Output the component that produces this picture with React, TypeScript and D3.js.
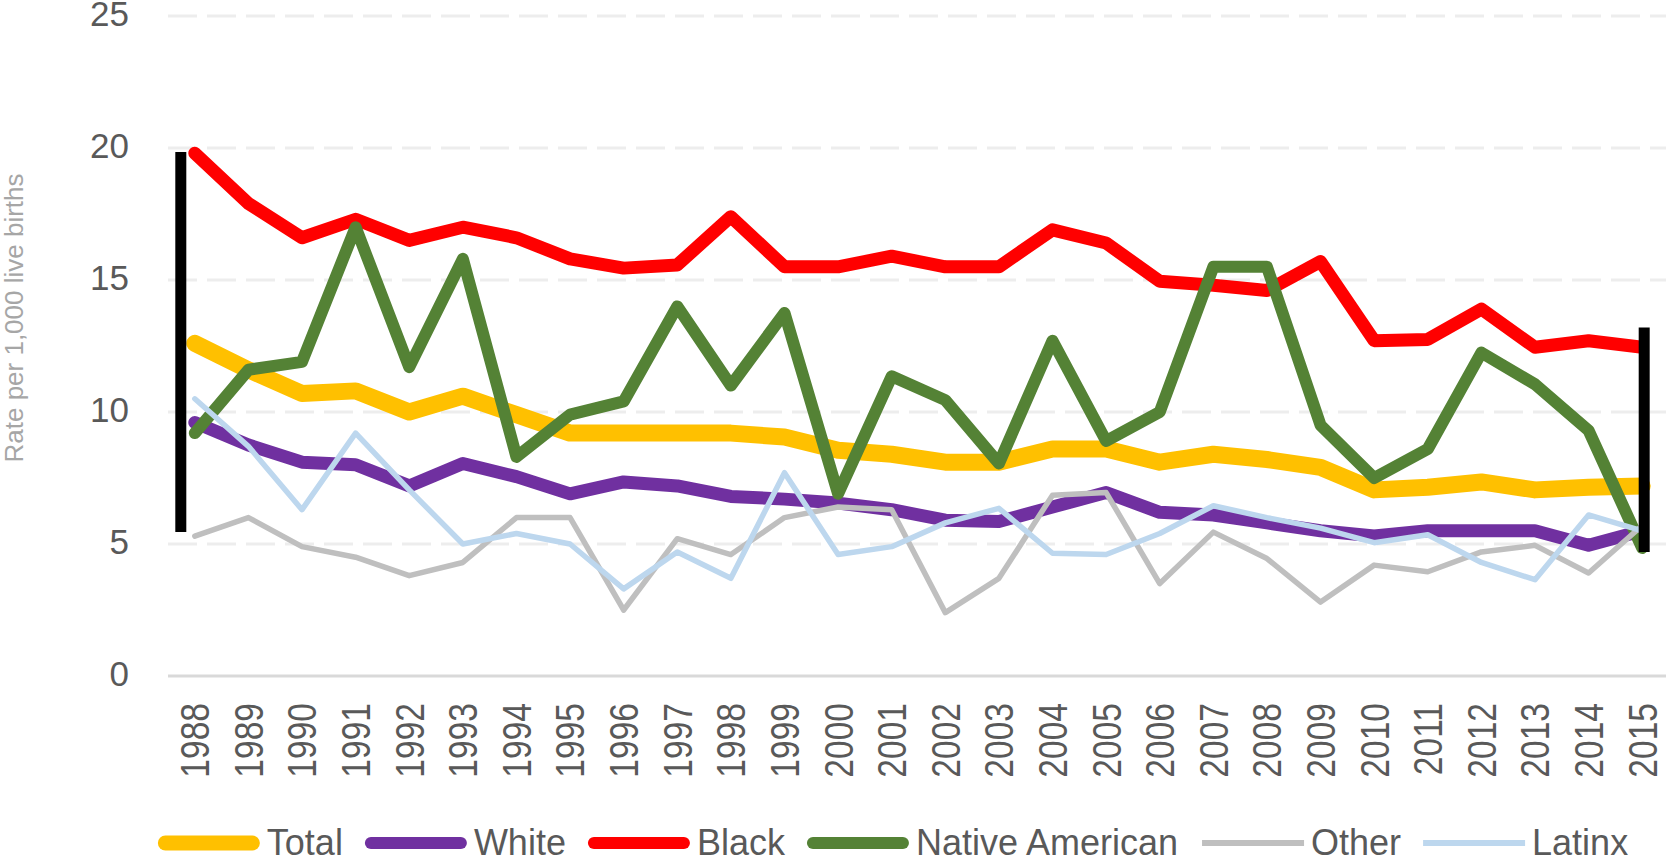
import * as d3 from 'd3'
import { useEffect, useRef } from 'react'

const W = 1666
const H = 864
const plot = { left: 168, right: 1669, top: 16, bottom: 676 }
const FONT = '"Liberation Sans", Arial, sans-serif'

const years = [
  '1988', '1989', '1990', '1991', '1992', '1993', '1994', '1995', '1996', '1997',
  '1998', '1999', '2000', '2001', '2002', '2003', '2004', '2005', '2006', '2007',
  '2008', '2009', '2010', '2011', '2012', '2013', '2014', '2015',
]
const yTicks = [0, 5, 10, 15, 20, 25]

const total = [12.6, 11.6, 10.7, 10.8, 10.0, 10.6, 9.9, 9.2, 9.2, 9.2, 9.2, 9.05, 8.55, 8.4, 8.1, 8.1, 8.6, 8.6, 8.1, 8.4, 8.2, 7.9, 7.05, 7.15, 7.35, 7.05, 7.15, 7.2]
const white = [9.6, 8.75, 8.1, 8.0, 7.2, 8.05, 7.55, 6.9, 7.35, 7.2, 6.8, 6.7, 6.55, 6.3, 5.9, 5.85, 6.4, 6.95, 6.2, 6.1, 5.8, 5.5, 5.3, 5.5, 5.5, 5.5, 4.95, 5.5]
const black = [19.8, 17.9, 16.6, 17.3, 16.5, 17.0, 16.6, 15.8, 15.45, 15.57, 17.4, 15.5, 15.5, 15.9, 15.5, 15.5, 16.9, 16.4, 14.95, 14.8, 14.6, 15.7, 12.7, 12.75, 13.9, 12.45, 12.7, 12.45]
const nativeAmerican = [9.2, 11.6, 11.9, 17.0, 11.7, 15.8, 8.3, 9.9, 10.4, 14.0, 11.0, 13.75, 6.9, 11.35, 10.45, 8.05, 12.7, 8.9, 10.0, 15.5, 15.5, 9.5, 7.5, 8.6, 12.25, 11.05, 9.3, 4.85]
const other = [5.3, 6.0, 4.9, 4.5, 3.8, 4.3, 6.0, 6.0, 2.5, 5.2, 4.6, 6.0, 6.4, 6.3, 2.4, 3.7, 6.85, 6.95, 3.5, 5.45, 4.45, 2.8, 4.2, 3.95, 4.7, 4.95, 3.9, 5.7]
const latinx = [10.5, 8.7, 6.3, 9.2, 7.05, 5.0, 5.4, 5.0, 3.3, 4.7, 3.7, 7.7, 4.6, 4.9, 5.8, 6.35, 4.65, 4.6, 5.4, 6.45, 6.0, 5.6, 5.05, 5.35, 4.3, 3.65, 6.1, 5.5]

// black range markers drawn over the first and last year
const rangeBars = [
  { year: '1988', high: 19.85, low: 5.45, shift: -14 },
  { year: '2015', high: 13.2, low: 4.7, shift: 2 },
]

const series = [
  { name: 'Total', values: total, color: '#FFC000', width: 17, legendWidth: 15 },
  { name: 'White', values: white, color: '#7030A0', width: 13, legendWidth: 12 },
  { name: 'Black', values: black, color: '#FF0000', width: 13, legendWidth: 12 },
  { name: 'Native American', values: nativeAmerican, color: '#548235', width: 12, legendWidth: 12 },
  { name: 'Other', values: other, color: '#BFBFBF', width: 5.5, legendWidth: 6 },
  { name: 'Latinx', values: latinx, color: '#BDD7EE', width: 5.5, legendWidth: 6 },
]

export default function App() {
  const ref = useRef<SVGSVGElement>(null)

  useEffect(() => {
    const svg = d3.select(ref.current)
    svg.selectAll('*').remove()

    const x = d3.scaleBand().domain(years).range([plot.left, plot.right]).padding(0)
    const xc = (yr: string) => (x(yr) ?? 0) + x.bandwidth() / 2
    const y = d3.scaleLinear().domain([0, 25]).range([plot.bottom, plot.top])

    // gridlines
    svg
      .append('g')
      .selectAll('line')
      .data(yTicks.filter((t) => t > 0))
      .join('line')
      .attr('x1', plot.left)
      .attr('x2', W)
      .attr('y1', (d) => y(d))
      .attr('y2', (d) => y(d))
      .attr('stroke', '#ededed')
      .attr('stroke-width', 3)
      .attr('stroke-dasharray', '29 10')

    svg
      .append('line')
      .attr('x1', plot.left)
      .attr('x2', W)
      .attr('y1', y(0))
      .attr('y2', y(0))
      .attr('stroke', '#d9d9d9')
      .attr('stroke-width', 3)

    // y tick labels
    svg
      .append('g')
      .selectAll('text')
      .data(yTicks)
      .join('text')
      .attr('x', 129)
      .attr('y', (d) => y(d) + 10)
      .attr('text-anchor', 'end')
      .attr('font-family', FONT)
      .attr('font-size', 35)
      .attr('fill', '#595959')
      .text((d) => d)

    // y title
    svg
      .append('text')
      .attr('transform', `translate(14, 318) rotate(-90)`)
      .attr('text-anchor', 'middle')
      .attr('dy', '0.35em')
      .attr('font-family', FONT)
      .attr('font-size', 26)
      .attr('fill', '#a6a6a6')
      .text('Rate per 1,000 live births')

    // x labels, rotated
    svg
      .append('g')
      .selectAll('text')
      .data(years)
      .join('text')
      .attr('transform', (d) => `translate(${xc(d)}, 703) rotate(-90) scale(0.84, 1)`)
      .attr('text-anchor', 'end')
      .attr('dy', '0.36em')
      .attr('font-family', FONT)
      .attr('font-size', 40)
      .attr('fill', '#595959')
      .text((d) => d)

    // series lines
    const line = d3
      .line<number>()
      .x((_, i) => xc(years[i]))
      .y((d) => y(d))

    svg
      .append('g')
      .selectAll('path')
      .data(series)
      .join('path')
      .attr('d', (s) => line(s.values))
      .attr('fill', 'none')
      .attr('stroke', (s) => s.color)
      .attr('stroke-width', (s) => s.width)
      .attr('stroke-linejoin', 'round')
      .attr('stroke-linecap', 'round')

    // range markers
    svg
      .append('g')
      .selectAll('line')
      .data(rangeBars)
      .join('line')
      .attr('x1', (d) => xc(d.year) + d.shift)
      .attr('x2', (d) => xc(d.year) + d.shift)
      .attr('y1', (d) => y(d.high))
      .attr('y2', (d) => y(d.low))
      .attr('stroke', '#000')
      .attr('stroke-width', 11)

    // legend
    const ctx = document.createElement('canvas').getContext('2d')!
    ctx.font = `36px ${FONT}`
    const swatch = 102
    const textGap = 7
    const itemGap = 22
    const widths = series.map((s) => ctx.measureText(s.name).width)
    const totalW =
      d3.sum(widths) + series.length * (swatch + textGap) + (series.length - 1) * itemGap
    let cx = 893 - totalW / 2
    const lg = svg.append('g')
    series.forEach((s, i) => {
      const cap = s.legendWidth > 8 ? s.legendWidth / 2 : 0
      lg.append('line')
        .attr('x1', cx + cap)
        .attr('x2', cx + swatch - cap)
        .attr('y1', 843)
        .attr('y2', 843)
        .attr('stroke', s.color)
        .attr('stroke-width', s.legendWidth)
        .attr('stroke-linecap', cap ? 'round' : 'butt')
      lg.append('text')
        .attr('x', cx + swatch + textGap)
        .attr('y', 855)
        .attr('font-family', FONT)
        .attr('font-size', 36)
        .attr('fill', '#595959')
        .text(s.name)
      cx += swatch + textGap + widths[i] + itemGap
    })
  }, [])

  return (
    <svg
      ref={ref}
      width={W}
      height={H}
      style={{ position: 'absolute', left: 0, top: 0, background: '#fff' }}
    />
  )
}
